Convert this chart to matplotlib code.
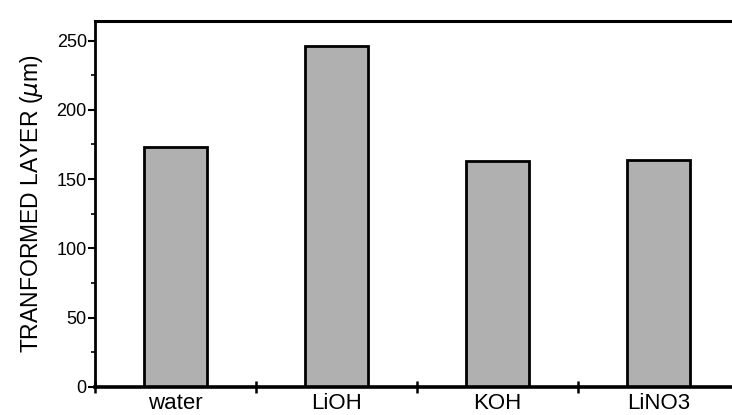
import matplotlib
matplotlib.use("Agg")
import matplotlib.pyplot as plt
from matplotlib.ticker import MultipleLocator, FixedLocator, NullFormatter

categories = ["water", "LiOH", "KOH", "LiNO3"]
values = [173, 246, 163, 164]
y_ticks = [0, 50, 100, 150, 200, 250]

plt.rcParams['font.family'] = ['Liberation Sans', 'DejaVu Sans']

fig = plt.figure(figsize=(7.32, 4.15), dpi=100)
ax = fig.add_axes([0.130, 0.0675, 0.870, 0.8815])

x = list(range(1, len(categories) + 1))
ax.bar(x, values, width=0.39, color='#b0b0b0', edgecolor='black', linewidth=2, zorder=2)

ax.set_xlim(0.5, 4.456)
ax.set_ylim(0, 264)

ax.set_yticks(y_ticks)
ax.yaxis.set_minor_locator(MultipleLocator(25))
ax.tick_params(axis='y', which='major', direction='out', length=5, width=1.5, labelsize=13, pad=1)
ax.tick_params(axis='y', which='minor', direction='out', length=3, width=1.2)

# category boundaries as major ticks, labels at centers via minor ticks
ax.xaxis.set_major_locator(FixedLocator([0.5, 1.5, 2.5, 3.5]))
ax.xaxis.set_major_formatter(NullFormatter())
ax.xaxis.set_minor_locator(FixedLocator(x))
ax.set_xticklabels(categories, minor=True)
ax.tick_params(axis='x', which='major', direction='inout', length=9, width=1.8)
ax.tick_params(axis='x', which='minor', length=0, labelsize=16, pad=4)

ax.set_ylabel("TRANFORMED LAYER ($\\mu$m)", fontsize=16.5, labelpad=8)

ax.spines['right'].set_visible(False)
ax.spines['left'].set_linewidth(2)
ax.spines['bottom'].set_linewidth(2.6)
ax.spines['top'].set_linewidth(2.2)

fig.savefig("out.png", dpi=100)
